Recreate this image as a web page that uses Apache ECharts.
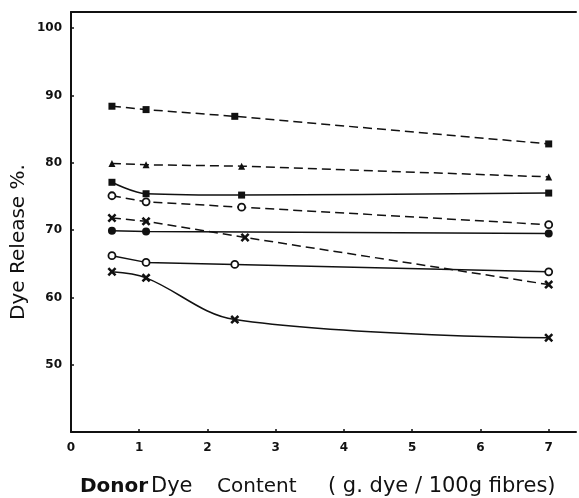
<!DOCTYPE html>
<html>
<head>
<meta charset="utf-8">
<script src="https://cdn.jsdelivr.net/npm/echarts@6/dist/echarts.min.js"></script>
<style>
  html, body { margin: 0; padding: 0; background: #fff; }
  #chart { width: 579px; height: 498px; }
</style>
</head>
<body>
<div id="chart"></div>
<script>
// Donor dye content (g dye / 100 g fibres) for each curve
var xSquareDash = [0.6, 1.1, 2.4, 7.0];
var xTriangleDash = [0.6, 1.1, 2.5, 7.0];
var xSquareSolid = [0.6, 1.1, 2.5, 7.0];
var xCircleDash = [0.6, 1.1, 2.5, 7.0];
var xCrossDash = [0.6, 1.1, 2.55, 7.0];
var xDotSolid = [0.6, 1.1, 7.0];
var xCircleSolid = [0.6, 1.1, 2.4, 7.0];
var xCrossSolid = [0.6, 1.1, 2.4, 7.0];

// Dye release (%) for each curve
var ySquareDash = [88.4, 87.9, 86.9, 82.8];
var yTriangleDash = [79.9, 79.7, 79.5, 77.9];
var ySquareSolid = [77.1, 75.4, 75.2, 75.5];
var yCircleDash = [75.1, 74.2, 73.4, 70.8];
var yCrossDash = [71.8, 71.3, 68.9, 61.9];
var yDotSolid = [69.9, 69.8, 69.5];
var yCircleSolid = [66.2, 65.2, 64.9, 63.8];
var yCrossSolid = [63.8, 62.9, 56.7, 54.0];

// Axis ticks
var xTicks = [0, 1, 2, 3, 4, 5, 6, 7];
var yTicks = [50, 60, 70, 80, 90, 100];

function pairs(xs, ys) {
  return xs.map(function (x, i) { return [x, ys[i]]; });
}

var CROSS = 'path://M2,0L5,3L8,0L10,2L7,5L10,8L8,10L5,7L2,10L0,8L3,5L0,2Z';
var INK = '#111';

function curve(name, xs, ys, symbol, size, dashed, smooth, hollow) {
  return {
    name: name,
    type: 'line',
    data: pairs(xs, ys),
    symbol: symbol,
    symbolSize: size,
    smooth: smooth ? 0.35 : false,
    lineStyle: {
      color: INK,
      width: 1.5,
      type: dashed ? [9, 5] : 'solid'
    },
    itemStyle: hollow
      ? { color: '#fff', borderColor: INK, borderWidth: 1.8 }
      : { color: INK, borderColor: INK, borderWidth: 0 },
    emphasis: { disabled: true },
    animation: false,
    z: 3
  };
}

var chart = echarts.init(document.getElementById('chart'), null, { renderer: 'canvas' });

var labelFont = {
  color: INK,
  fontFamily: 'DejaVu Sans',
  fontWeight: 'bold',
  fontSize: 12
};

chart.setOption({
  backgroundColor: '#fff',
  animation: false,
  grid: { left: 71, right: 3, top: 12, bottom: 66, containLabel: false },
  xAxis: [
    {
      type: 'value',
      min: 0,
      max: 7.4,
      interval: 1,
      axisLine: { show: true, onZero: false, lineStyle: { color: INK, width: 2 } },
      axisTick: { show: true, inside: true, length: 3, lineStyle: { color: INK, width: 1.5 } },
      splitLine: { show: false },
      axisLabel: Object.assign({
        margin: 10,
        showMaxLabel: false,
        formatter: function (v) { return xTicks.indexOf(v) >= 0 ? String(v) : ''; }
      }, labelFont)
    },
    {
      type: 'value',
      position: 'top',
      min: 0,
      max: 7.4,
      axisLine: { show: true, onZero: false, lineStyle: { color: INK, width: 2 } },
      axisTick: { show: false },
      axisLabel: { show: false },
      splitLine: { show: false }
    }
  ],
  yAxis: {
    type: 'value',
    min: 40,
    max: 102.4,
    interval: 10,
    axisLine: { show: true, onZero: false, lineStyle: { color: INK, width: 2 } },
    axisTick: { show: true, inside: true, length: 3, lineStyle: { color: INK, width: 1.5 } },
    splitLine: { show: false },
    axisLabel: Object.assign({
      margin: 9,
      showMaxLabel: false,
      formatter: function (v) { return yTicks.indexOf(v) >= 0 ? String(v) : ''; }
    }, labelFont)
  },
  series: [
    curve('sqDash', xSquareDash, ySquareDash, 'rect', 7, true, false, false),
    curve('triDash', xTriangleDash, yTriangleDash, 'triangle', 7, true, false, false),
    curve('sqSolid', xSquareSolid, ySquareSolid, 'rect', 7, false, true, false),
    curve('circDash', xCircleDash, yCircleDash, 'circle', 7, true, false, true),
    curve('crossDash', xCrossDash, yCrossDash, CROSS, 9, true, false, false),
    curve('dotSolid', xDotSolid, yDotSolid, 'circle', 8, false, false, false),
    curve('circSolid', xCircleSolid, yCircleSolid, 'circle', 7, false, false, true),
    curve('crossSolid', xCrossSolid, yCrossSolid, CROSS, 9, false, true, false)
  ],
  graphic: [
    {
      type: 'text',
      x: 19,
      y: 242,
      rotation: Math.PI / 2,
      style: {
        text: 'Dye Release %.',
        fill: INK,
        font: '20px "DejaVu Sans"',
        textAlign: 'center',
        textVerticalAlign: 'middle'
      }
    },
    {
      type: 'text',
      x: 80,
      y: 487,
      style: {
        text: 'Donor',
        fill: INK,
        font: 'bold 20px "DejaVu Sans"',
        textAlign: 'left',
        textVerticalAlign: 'middle'
      }
    },
    {
      type: 'text',
      x: 151,
      y: 487,
      style: {
        text: 'Dye',
        fill: INK,
        font: '21px "DejaVu Sans"',
        textAlign: 'left',
        textVerticalAlign: 'middle'
      }
    },
    {
      type: 'text',
      x: 217,
      y: 487,
      style: {
        text: 'Content',
        fill: INK,
        font: '20px "DejaVu Sans"',
        textAlign: 'left',
        textVerticalAlign: 'middle'
      }
    },
    {
      type: 'text',
      x: 328,
      y: 487,
      style: {
        text: '( g. dye / 100g fibres)',
        fill: INK,
        font: '21px "DejaVu Sans"',
        textAlign: 'left',
        textVerticalAlign: 'middle'
      }
    }
  ]
});
</script>
</body>
</html>
